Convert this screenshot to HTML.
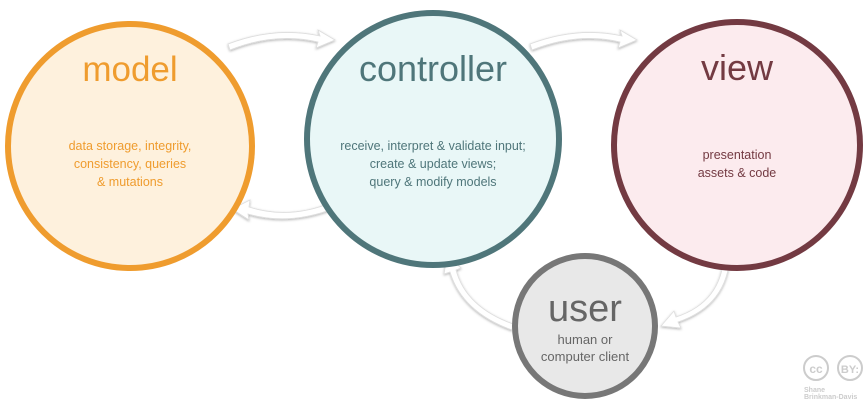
<!DOCTYPE html>
<html><head><style>
html,body{margin:0;padding:0;background:#fff;}
svg{display:block}
text{font-family:"Liberation Sans",sans-serif;}
</style></head><body>
<svg width="866" height="400" viewBox="0 0 866 400" xmlns="http://www.w3.org/2000/svg">
<defs>
<filter id="sh" x="-20%" y="-20%" width="140%" height="140%"><feDropShadow dx="0" dy="1" stdDeviation="1.2" flood-color="#000" flood-opacity="0.3"/></filter>
</defs>
<g filter="url(#sh)" fill="#fff" stroke="#ddd" stroke-width="0.8">
<path d="M228 44 Q275 26 320 36 L318 30 L335 40 L316 48 L318 42 Q275 32 230 50 Z"/>
<path d="M530 44 Q578 26 622 36 L620 30 L637 40 L618 48 L620 42 Q578 32 532 50 Z"/>
<path d="M335 208 Q290 226 248 214 L249 220 L232 209 L250 200 L249 207 Q290 220 333 202 Z"/>
<path d="M730 254 Q728 305 678 322 L681 328 L661 326 L674 311 L676 317 Q722 302 724 254 Z"/>
<path d="M512 330 Q462 312 450 272 L444 274 L447 256 L461 268 L456 270 Q466 307 513 324 Z"/>
</g>
<circle cx="130" cy="146" r="122" fill="#fef1dd" stroke="#ef9c2e" stroke-width="6"/>
<circle cx="433" cy="139" r="126" fill="#e9f7f7" stroke="#4f767a" stroke-width="6"/>
<circle cx="737" cy="145" r="123" fill="#fcebee" stroke="#733a42" stroke-width="6"/>
<circle cx="585" cy="326" r="70" fill="#e8e8e8" stroke="#777" stroke-width="6"/>

<text x="130" y="81" text-anchor="middle" font-size="35" fill="#ef9c2e">model</text>
<g font-size="12.5" fill="#ef9c2e" text-anchor="middle">
<text x="130" y="150">data storage, integrity,</text>
<text x="130" y="168">consistency, queries</text>
<text x="130" y="186">&amp; mutations</text>
</g>
<text x="433" y="81" text-anchor="middle" font-size="36" fill="#4f767a">controller</text>
<g font-size="12.5" fill="#4f767a" text-anchor="middle">
<text x="433" y="150">receive, interpret &amp; validate input;</text>
<text x="433" y="168">create &amp; update views;</text>
<text x="433" y="186">query &amp; modify models</text>
</g>
<text x="737" y="80" text-anchor="middle" font-size="36" fill="#733a42">view</text>
<g font-size="12.5" fill="#733a42" text-anchor="middle">
<text x="737" y="159">presentation</text>
<text x="737" y="177">assets &amp; code</text>
</g>
<text x="585" y="321" text-anchor="middle" font-size="38" fill="#666">user</text>
<g font-size="13" fill="#666" text-anchor="middle">
<text x="585" y="344">human or</text>
<text x="585" y="361">computer client</text>
</g>
<g fill="none" stroke="#ccc" stroke-width="2">
<circle cx="816" cy="368" r="12"/>
<circle cx="850" cy="368" r="12"/>
</g>
<text x="816" y="373" text-anchor="middle" font-size="12" font-weight="bold" fill="#ccc">cc</text>
<text x="850" y="373" text-anchor="middle" font-size="11" font-weight="bold" fill="#ccc">BY:</text>
<text x="804" y="392" font-size="7" font-weight="bold" fill="#ccc">Shane</text>
<text x="804" y="399" font-size="7" font-weight="bold" fill="#ccc">Brinkman-Davis</text>
</svg>
</body></html>
